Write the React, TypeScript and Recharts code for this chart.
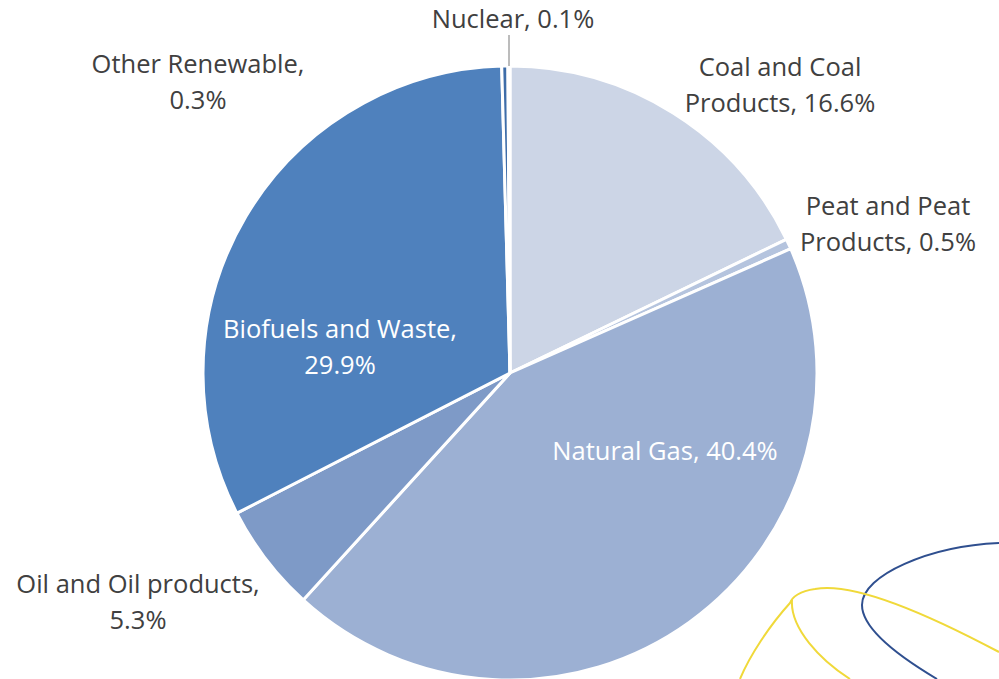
import { Cell, Pie, PieChart } from "recharts";

// energy mix shares (%), clockwise from 12 o'clock
const sources = [
  "Coal and Coal Products",
  "Peat and Peat Products",
  "Natural Gas",
  "Oil and Oil products",
  "Biofuels and Waste",
  "Other Renewable",
  "Nuclear",
];
const shares = [16.6, 0.5, 40.4, 5.3, 29.9, 0.3, 0.1];
const labelLines = [
  ["Coal and Coal", "Products, 16.6%"],
  ["Peat and Peat", "Products, 0.5%"],
  ["Natural Gas, 40.4%"],
  ["Oil and Oil products,", "5.3%"],
  ["Biofuels and Waste,", "29.9%"],
  ["Other Renewable,", "0.3%"],
  ["Nuclear, 0.1%"],
];

const COLORS = [
  "#CCD5E6", // coal
  "#B5C4DE", // peat
  "#9CB0D3", // gas
  "#7E9AC7", // oil
  "#4F81BD", // biofuels
  "#3E6DA9", // other renewable
  "#2C5B96", // nuclear
];

// where Excel's best-fit put each label (centre of the text block)
const LABEL_POS: Record<string, { x: number; y: number; color: string }> = {
  "Coal and Coal Products": { x: 780, y: 84, color: "#404040" },
  "Peat and Peat Products": { x: 888, y: 223, color: "#404040" },
  "Natural Gas": { x: 665, y: 450, color: "#ffffff" },
  "Oil and Oil products": { x: 138, y: 601, color: "#404040" },
  "Biofuels and Waste": { x: 340, y: 346, color: "#ffffff" },
  "Other Renewable": { x: 198, y: 81, color: "#404040" },
  Nuclear: { x: 513, y: 18, color: "#404040" },
};

const data = sources.map((name, i) => ({
  name,
  value: shares[i],
  lines: labelLines[i],
}));

const FONT = "'Open Sans', sans-serif";

function renderLabel(props: any) {
  const { name, index } = props;
  const pos = LABEL_POS[name];
  if (!pos) return null;
  const lines: string[] = data[index].lines;
  const lh = 36;
  const y0 = pos.y - ((lines.length - 1) * lh) / 2;
  return (
    <g>
      {name === "Nuclear" && (
        <line x1={509} y1={35} x2={509} y2={66} stroke="#A6A6A6" strokeWidth={1.5} />
      )}
      <text
        x={pos.x}
        y={y0}
        textAnchor="middle"
        dominantBaseline="central"
        fill={pos.color}
        fontSize={25.5}
        fontFamily={FONT}
      >
        {lines.map((l, k) => (
          <tspan key={k} x={pos.x} y={y0 + k * lh}>
            {l}
          </tspan>
        ))}
      </text>
    </g>
  );
}

export default function App() {
  return (
    <div
      style={{
        position: "absolute",
        left: 0,
        top: 0,
        width: 999,
        height: 679,
        background: "#fff",
        overflow: "hidden",
      }}
    >
      <PieChart width={999} height={679} margin={{ top: 0, right: 0, bottom: 0, left: 0 }}>
        <Pie
          data={data}
          dataKey="value"
          nameKey="name"
          cx={510}
          cy={373}
          outerRadius={307}
          startAngle={90}
          endAngle={-270}
          stroke="#ffffff"
          strokeWidth={3}
          label={renderLabel}
          labelLine={false}
          isAnimationActive={false}
        >
          {data.map((d, i) => (
            <Cell key={d.name} fill={COLORS[i]} />
          ))}
        </Pie>
      </PieChart>
      {/* decorative logo swoosh, bottom right */}
      <svg
        width={999}
        height={679}
        style={{ position: "absolute", left: 0, top: 0, pointerEvents: "none" }}
      >
        <path
          d="M 999 543 C 930 546, 862 575, 862 605 C 862 630, 905 660, 937 679"
          fill="none"
          stroke="#2F4F8F"
          strokeWidth={2}
        />
        <path
          d="M 999 652 C 920 610, 850 582, 815 589 C 800 591, 792 597, 790 603 C 770 625, 750 655, 740 679"
          fill="none"
          stroke="#F0D93A"
          strokeWidth={2}
        />
        <path
          d="M 792 600 C 790 628, 820 660, 850 679"
          fill="none"
          stroke="#F0D93A"
          strokeWidth={2}
        />
      </svg>
    </div>
  );
}
